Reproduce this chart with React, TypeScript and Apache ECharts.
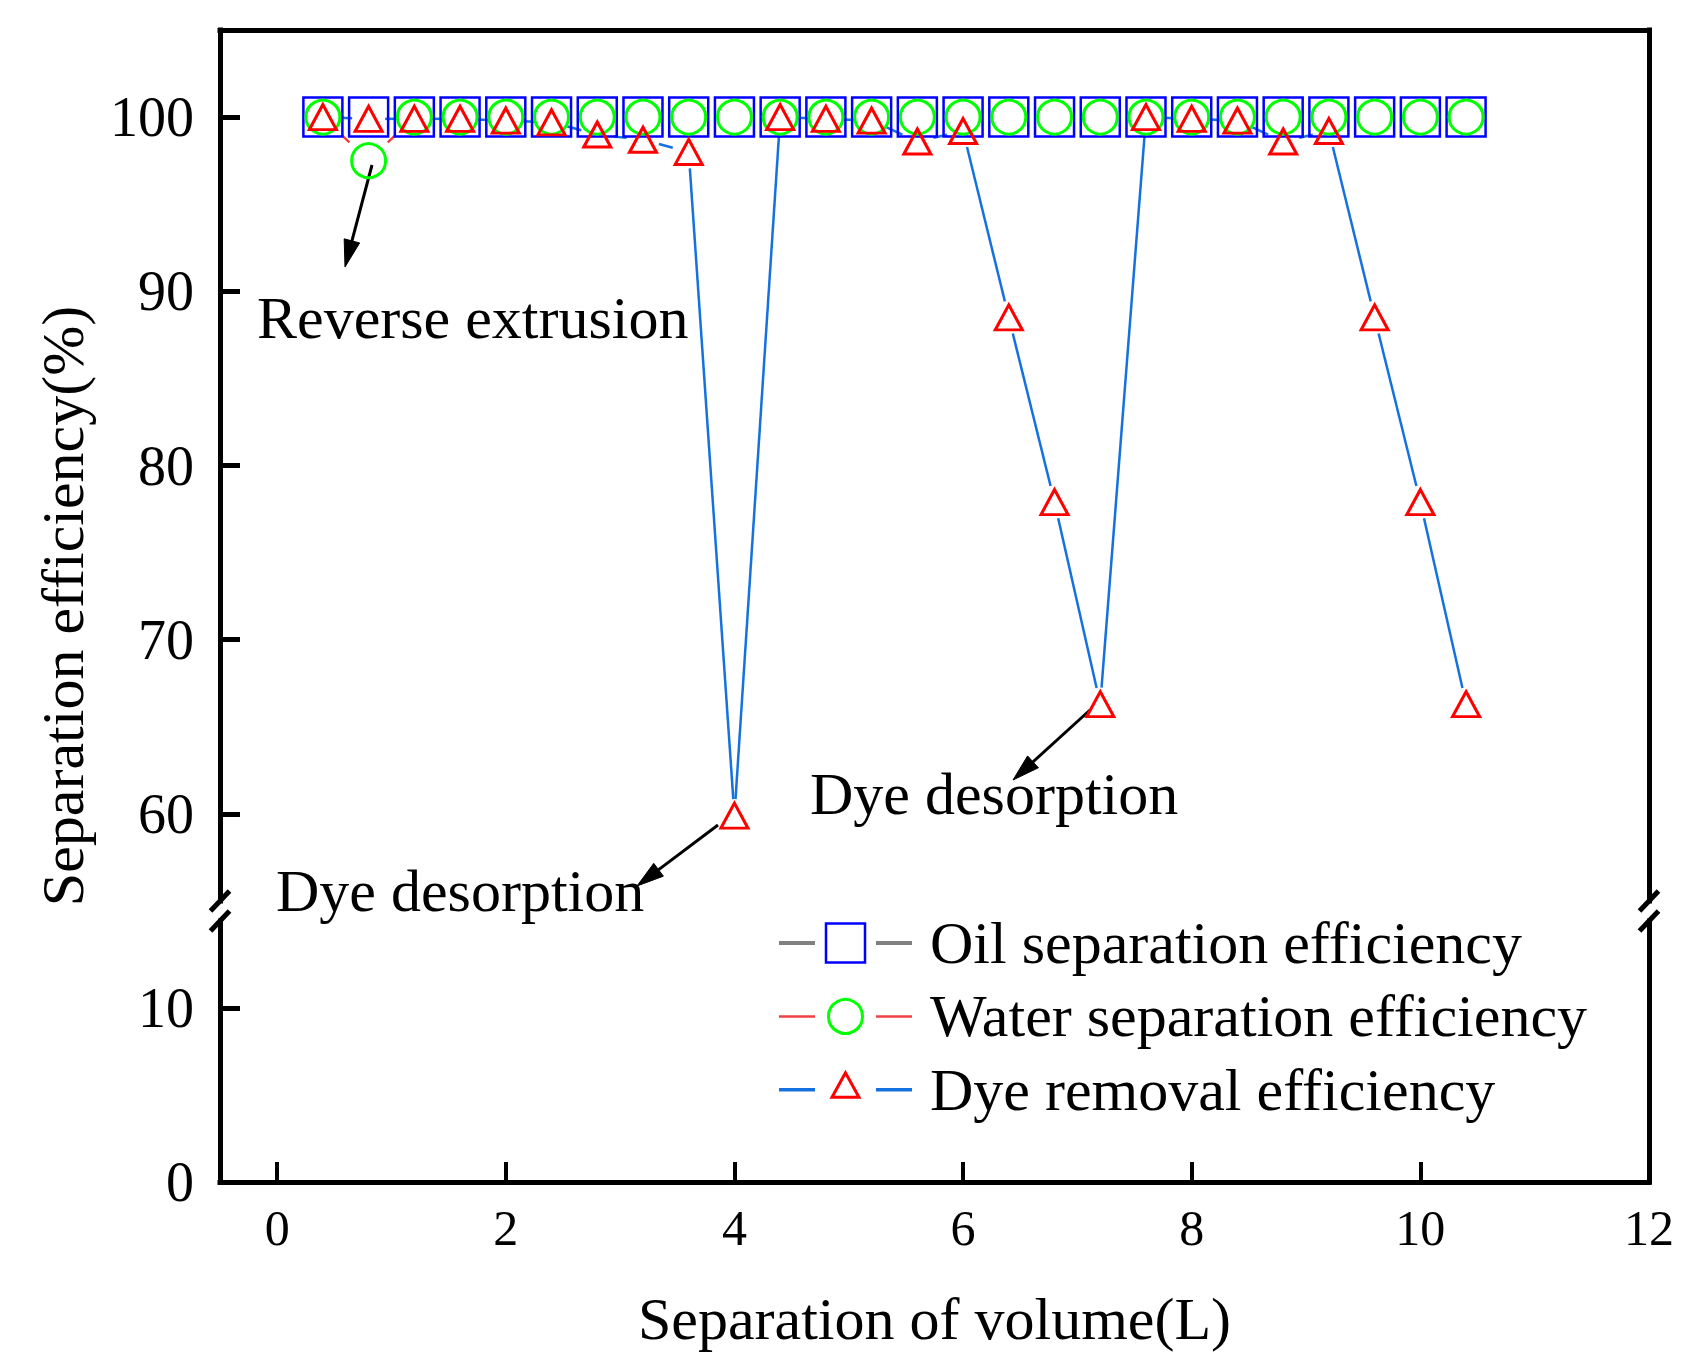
import React, { useEffect, useRef } from "react";
import * as echarts from "echarts";

// ---------------- data ----------------
const volume = [0.4, 0.8, 1.2, 1.6, 2.0, 2.4, 2.8, 3.2, 3.6, 4.0, 4.4, 4.8, 5.2, 5.6, 6.0, 6.4, 6.8, 7.2, 7.6, 8.0, 8.4, 8.8, 9.2, 9.6, 10.0, 10.4];
const oilEff = [100, 100, 100, 100, 100, 100, 100, 100, 100, 100, 100, 100, 100, 100, 100, 100, 100, 100, 100, 100, 100, 100, 100, 100, 100, 100];
const waterEff = [100, 97.5, 100, 100, 100, 100, 100, 100, 100, 100, 100, 100, 100, 100, 100, 100, 100, 100, 100, 100, 100, 100, 100, 100, 100, 100];
const dyeEff = [100, 99.9, 99.9, 99.9, 99.8, 99.7, 99.0, 98.7, 98.0, 59.9, 100, 99.9, 99.8, 98.6, 99.2, 88.5, 77.9, 66.3, 100, 99.9, 99.8, 98.6, 99.2, 88.5, 77.9, 66.3];
const seriesNames = ["Oil separation efficiency", "Water separation efficiency", "Dye removal efficiency"];
const xTicks = [0, 2, 4, 6, 8, 10, 12];
const yTicksUpper = [60, 70, 80, 90, 100];
const yTicksLower = [0, 10];
const xTitle = "Separation of volume(L)";
const yTitle = "Separation efficiency(%)";

// ---------------- layout ----------------
const FONT = '"Liberation Serif", "Times New Roman", serif';
const G_LEFT = 220;
const G_RIGHT = 1649;
const UP_TOP = 30;
const UP_BOTTOM = 901;
const LOW_TOP = 921;
const LOW_BOTTOM = 1182;

const pts = (ys: number[]) => volume.map((x, i) => [x, ys[i]]);
const segs = (ys: number[]) =>
  volume.slice(0, -1).map((x, i) => [x, ys[i], volume[i + 1], ys[i + 1]]);

function gapLine(name: string, ys: number[], color: string, width: number, gap: number) {
  return {
    type: "custom",
    name,
    xAxisIndex: 0,
    yAxisIndex: 0,
    silent: true,
    data: segs(ys),
    dimensions: ["x1", "y1", "x2", "y2"],
    encode: { x: [0, 2], y: [1, 3] },
    renderItem: (_params: any, api: any) => {
      const a = api.coord([api.value(0), api.value(1)]);
      const b = api.coord([api.value(2), api.value(3)]);
      const dx = b[0] - a[0];
      const dy = b[1] - a[1];
      const len = Math.hypot(dx, dy);
      if (len <= 2 * gap + 0.5) return { type: "group", children: [] };
      const ux = dx / len;
      const uy = dy / len;
      return {
        type: "line",
        shape: { x1: a[0] + ux * gap, y1: a[1] + uy * gap, x2: b[0] - ux * gap, y2: b[1] - uy * gap },
        style: { stroke: color, lineWidth: width, fill: null },
      };
    },
  };
}

function symbols(name: string, ys: number[], symbol: string, size: any, color: string, bw: number) {
  return {
    type: "scatter",
    name,
    xAxisIndex: 0,
    yAxisIndex: 0,
    data: pts(ys),
    symbol,
    symbolSize: size,
    itemStyle: { color: "rgba(0,0,0,0)", borderColor: color, borderWidth: bw, opacity: 1 },
    silent: true,
  };
}

const frameLine = { show: true, onZero: false, lineStyle: { color: "#000", width: 5, cap: "square" } };

function arrow(sx: number, sy: number, tx: number, ty: number) {
  const dx = tx - sx;
  const dy = ty - sy;
  const len = Math.hypot(dx, dy);
  const ux = dx / len;
  const uy = dy / len;
  const hl = 27;
  const hw = 8;
  const bx = tx - ux * hl;
  const by = ty - uy * hl;
  return [
    { type: "line", shape: { x1: sx, y1: sy, x2: bx + ux * 4, y2: by + uy * 4 }, style: { stroke: "#000", lineWidth: 3 } },
    {
      type: "polygon",
      shape: { points: [[tx, ty], [bx - uy * hw, by + ux * hw], [bx + uy * hw, by - ux * hw]] },
      style: { fill: "#000", stroke: "#000", lineWidth: 1 },
    },
  ];
}

function breakMark(x: number, y: number) {
  return { type: "line", shape: { x1: x - 9.5, y1: y + 10, x2: x + 9.5, y2: y - 10 }, style: { stroke: "#000", lineWidth: 5 } };
}

function txt(text: string, x: number, y: number, align = "left", extra: any = {}) {
  return {
    type: "text",
    x,
    y,
    ...extra,
    style: { text, fill: "#000", font: `60px ${FONT}`, textAlign: align, textVerticalAlign: "middle" },
  };
}

// legend rows
const LEG_CX = 845.5;
const LEG_ROWS = [943, 1016.4, 1089.8];
function legendRow(i: number, lineColor: string, lineW: number, sym: any) {
  const y = LEG_ROWS[i];
  return [
    { type: "line", shape: { x1: 779, y1: y, x2: 815, y2: y }, style: { stroke: lineColor, lineWidth: lineW } },
    { type: "line", shape: { x1: 876, y1: y, x2: 912, y2: y }, style: { stroke: lineColor, lineWidth: lineW } },
    sym,
    txt(seriesNames[i], 930, y),
  ];
}

const graphics: any[] = [
  breakMark(G_LEFT, UP_BOTTOM),
  breakMark(G_LEFT, LOW_TOP),
  breakMark(G_RIGHT, UP_BOTTOM),
  breakMark(G_RIGHT, LOW_TOP),
  txt(yTitle, 63, 606, "center", { rotation: Math.PI / 2 }),
  txt("Reverse extrusion", 257, 318),
  txt("Dye desorption", 276, 891),
  txt("Dye desorption", 810, 794),
  ...arrow(372, 165, 345, 267),
  ...arrow(718, 825, 637, 886),
  ...arrow(1090, 710, 1013, 780),
  ...legendRow(0, "#808080", 4, {
    type: "rect",
    shape: { x: LEG_CX - 19.5, y: LEG_ROWS[0] - 19.5, width: 39, height: 39 },
    style: { fill: "#fff", stroke: "#0000ff", lineWidth: 2.5 },
  }),
  ...legendRow(1, "#f04040", 2.5, {
    type: "circle",
    shape: { cx: LEG_CX, cy: LEG_ROWS[1], r: 17 },
    style: { fill: "#fff", stroke: "#00ff00", lineWidth: 3 },
  }),
  ...legendRow(2, "#1571de", 3.5, {
    type: "polygon",
    shape: { points: [[LEG_CX, LEG_ROWS[2] - 17], [LEG_CX - 13.5, LEG_ROWS[2] + 7.5], [LEG_CX + 13.5, LEG_ROWS[2] + 7.5]] },
    style: { fill: "#fff", stroke: "#ff0000", lineWidth: 3 },
  }),
];

const option: any = {
  animation: false,
  backgroundColor: "#fff",
  textStyle: { fontFamily: FONT },
  grid: [
    { left: G_LEFT, width: G_RIGHT - G_LEFT, top: UP_TOP, height: UP_BOTTOM - UP_TOP, containLabel: false },
    { left: G_LEFT, width: G_RIGHT - G_LEFT, top: LOW_TOP, height: LOW_BOTTOM - LOW_TOP, containLabel: false },
  ],
  xAxis: [
    {
      gridIndex: 0, type: "value", min: -0.5, max: 12, position: "top",
      axisLine: frameLine, axisTick: { show: false }, axisLabel: { show: false }, splitLine: { show: false },
    },
    {
      gridIndex: 1, type: "value", min: -0.5, max: 12, position: "bottom",
      axisLine: frameLine,
      axisTick: { show: true, inside: true, length: 20, lineStyle: { color: "#000", width: 4 }, customValues: xTicks },
      axisLabel: { show: true, customValues: xTicks, margin: 21, fontSize: 50, fontFamily: FONT, color: "#000" },
      splitLine: { show: false },
      name: xTitle, nameLocation: "middle", nameGap: 107,
      nameTextStyle: { fontSize: 60, fontFamily: FONT, color: "#000" },
    },
  ],
  yAxis: [
    {
      gridIndex: 0, type: "value", min: 55, max: 105, position: "left",
      axisLine: frameLine,
      axisTick: { show: true, inside: true, length: 20, lineStyle: { color: "#000", width: 5 }, customValues: yTicksUpper },
      axisLabel: { show: true, customValues: yTicksUpper, margin: 26, fontSize: 56, fontFamily: FONT, color: "#000" },
      splitLine: { show: false },
    },
    {
      gridIndex: 0, type: "value", min: 55, max: 105, position: "right",
      axisLine: frameLine, axisTick: { show: false }, axisLabel: { show: false }, splitLine: { show: false },
    },
    {
      gridIndex: 1, type: "value", min: 0, max: 15, position: "left",
      axisLine: frameLine,
      axisTick: { show: true, inside: true, length: 20, lineStyle: { color: "#000", width: 5 }, customValues: yTicksLower },
      axisLabel: { show: true, customValues: yTicksLower, margin: 26, fontSize: 56, fontFamily: FONT, color: "#000" },
      splitLine: { show: false },
    },
    {
      gridIndex: 1, type: "value", min: 0, max: 15, position: "right",
      axisLine: frameLine, axisTick: { show: false }, axisLabel: { show: false }, splitLine: { show: false },
    },
  ],
  series: [
    gapLine(seriesNames[0] + " line", oilEff, "#808080", 3, 24),
    symbols(seriesNames[0], oilEff, "rect", 39, "#0000ff", 2.5),
    gapLine(seriesNames[1] + " line", waterEff, "#f04040", 2.5, 26.5),
    symbols(seriesNames[1], waterEff, "circle", 34, "#00ff00", 3),
    gapLine(seriesNames[2] + " line", dyeEff, "#1571de", 2.5, 16.5),
    symbols(seriesNames[2], dyeEff, "triangle", [27, 25], "#ff0000", 3),
  ],
  graphic: graphics,
};

export default function App() {
  const ref = useRef<HTMLDivElement>(null);
  useEffect(() => {
    const chart = echarts.init(ref.current as HTMLDivElement, null, { renderer: "svg" });
    chart.setOption(option);
    return () => chart.dispose();
  }, []);
  return (
    <div
      ref={ref}
      style={{ position: "absolute", left: 0, top: 0, width: 1700, height: 1367, background: "#fff" }}
    />
  );
}
